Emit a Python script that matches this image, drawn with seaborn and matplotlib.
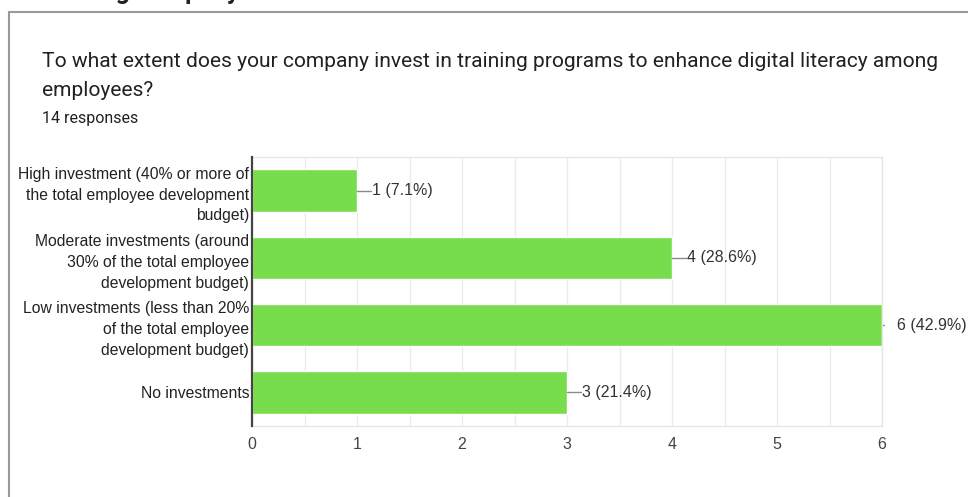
import matplotlib
matplotlib.use("Agg")
import matplotlib.pyplot as plt
import seaborn as sns
import pandas as pd
from matplotlib.lines import Line2D
from matplotlib.ticker import MultipleLocator

# Survey data
categories = [
    "High investment (40% or more of\nthe total employee development\nbudget)",
    "Moderate investments (around\n30% of the total employee\ndevelopment budget)",
    "Low investments (less than 20%\nof the total employee\ndevelopment budget)",
    "No investments",
]
counts = [1, 4, 6, 3]
total = 14
question_lines = ["To what extent does your company invest in training programs to enhance digital literacy among",
                  "employees?"]

df = pd.DataFrame({"option": categories, "count": counts})

sns.set_style("white")
plt.rcParams["font.family"] = ["Roboto", "DejaVu Sans"]
chart_font = ["Liberation Sans", "DejaVu Sans"]

W, H = 968, 497
fig = plt.figure(figsize=(W / 100, H / 100), dpi=100)

# card border
fig.add_artist(Line2D([9 / W, 1], [1 - 12 / H, 1 - 12 / H], color="#9a9a9a", lw=1.5))
fig.add_artist(Line2D([9 / W, 9 / W], [0, 1 - 12 / H], color="#9a9a9a", lw=1.5))

# heading of the previous card, cut off at the top of the screenshot (only descenders show)
fig.text(36 / W, 1 + 1 / H, "Training company", fontsize=18, fontweight="bold",
         color="#202124", va="baseline")

fig.text(42 / W, 1 - 67 / H, question_lines[0], fontsize=15.1, color="#202124", va="baseline")
fig.text(42 / W, 1 - 96 / H, question_lines[1], fontsize=15.1, color="#202124", va="baseline")
fig.text(42 / W, 1 - 123 / H, f"{total} responses", fontsize=11.5, color="#202124", va="baseline")

ax = fig.add_axes([252 / W, 1 - 426 / H, 630 / W, 269 / H])
sns.barplot(data=df, x="count", y="option", orient="h", color="#78dd4d",
            saturation=1, width=0.63, ax=ax)

ax.set_xlim(0, 6)
ax.set_ylim(3.5, -0.5)
ax.xaxis.set_major_locator(MultipleLocator(1))
ax.xaxis.set_minor_locator(MultipleLocator(0.5))
ax.grid(True, which="both", axis="x", color="#ebebeb", lw=1)
ax.set_axisbelow(True)
ax.set_xlabel("")
ax.set_ylabel("")

for s in ["top", "right", "bottom"]:
    ax.spines[s].set_color("#e6e6e6")
    ax.spines[s].set_linewidth(1)
ax.spines["left"].set_color("#444444")
ax.spines["left"].set_linewidth(1.6)
ax.spines["left"].set_zorder(5)

ax.tick_params(axis="x", which="both", length=0, pad=8, labelsize=11.5, labelcolor="#444444")
ax.tick_params(axis="y", length=0, pad=2, labelsize=11.3, labelcolor="#222222")
for lbl in ax.get_yticklabels() + ax.get_xticklabels():
    lbl.set_family(chart_font)
for lbl in ax.get_yticklabels():
    lbl.set_linespacing(1.48)

# value labels with leader lines
unit = 105  # pixels per count
for i, c in enumerate(counts):
    pct = c / total * 100
    lead = 2 if c == max(counts) else 14
    ax.plot([c, c + lead / unit], [i, i], color="#8a8a8a", lw=1, clip_on=False)
    ax.text(c + 15 / unit, i, f"{c} ({pct:.1f}%)", family=chart_font,
            va="center", ha="left", fontsize=11.5, color="#333333", clip_on=False)

fig.savefig("out.png", dpi=100)
